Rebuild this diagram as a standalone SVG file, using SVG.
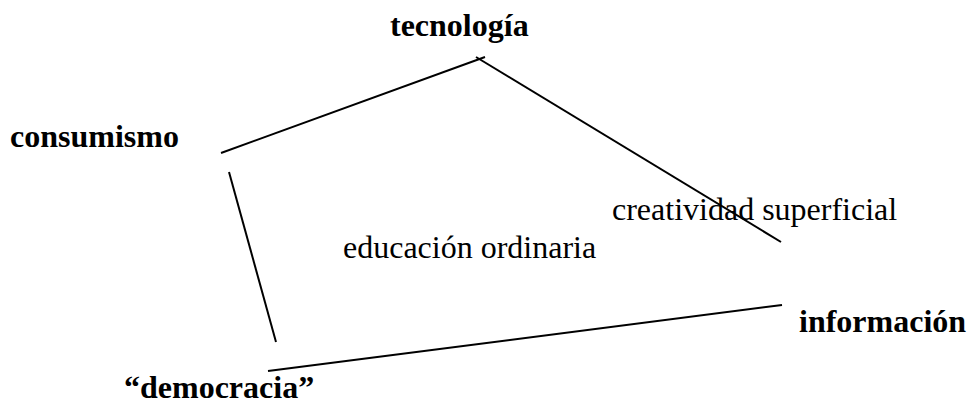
<svg xmlns="http://www.w3.org/2000/svg" width="970" height="405" viewBox="0 0 970 405">
<style>
text{font-family:'Liberation Serif','Times New Roman','DejaVu Serif',serif;font-size:32px;fill:#000}
.b{font-weight:bold}
.c line{stroke:#000;stroke-width:2;fill:none}
</style>
<rect width="970" height="405" fill="#fff"/>
<g id="tecnologia"><text class="b" x="390" y="36" font-family="Liberation Serif, serif">tecnología</text></g>
<g id="consumismo"><text class="b" x="10" y="147" font-family="Liberation Serif, serif">consumismo</text></g>
<g id="democracia"><text class="b" x="124" y="398" font-family="Liberation Serif, serif">“democracia”</text></g>
<g id="informacion"><text class="b" x="799" y="332" font-family="Liberation Serif, serif">información</text></g>
<g id="educacion"><text x="343" y="258" font-family="Liberation Serif, serif">educación ordinaria</text></g>
<g id="creatividad"><text x="612" y="220" font-family="Liberation Serif, serif">creatividad superficial</text></g>
<g class="c" id="connectors">
<line x1="221" y1="153" x2="485" y2="57"/>
<line x1="476" y1="57" x2="781" y2="242"/>
<line x1="229" y1="172" x2="276" y2="342"/>
<line x1="268" y1="371" x2="782" y2="305"/>
</g>
</svg>
